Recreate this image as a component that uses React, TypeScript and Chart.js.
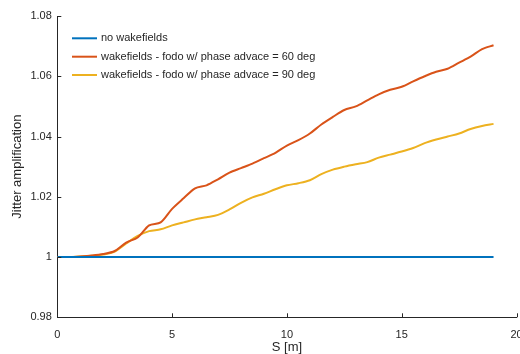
import React, { useEffect, useRef } from "react";
import { Chart, registerables } from "chart.js";

Chart.register(...registerables);

const sValues: number[] = [
  0, 0.5, 1, 1.5, 2, 2.5, 3, 3.5, 4, 4.5, 5, 5.5, 6, 6.5, 7, 7.5, 8, 8.5, 9, 9.5,
  10, 10.5, 11, 11.5, 12, 12.5, 13, 13.5, 14, 14.5, 15, 15.5, 16, 16.5, 17, 17.5,
  18, 18.5, 19,
];

const noWake: number[] = sValues.map(() => 1.0);

const fodo60: number[] = [
  1.0, 1.0, 1.0002, 1.0005, 1.001, 1.002, 1.0048, 1.0065, 1.0105, 1.0115, 1.016,
  1.0195, 1.0228, 1.0238, 1.0258, 1.028, 1.0295, 1.031, 1.0328, 1.0346, 1.037,
  1.0388, 1.041, 1.044, 1.0465, 1.0488, 1.05, 1.052, 1.054, 1.0555, 1.0565,
  1.0583, 1.06, 1.0615, 1.0625, 1.0645, 1.0665, 1.069, 1.0703,
];

const fodo90: number[] = [
  1.0, 1.0, 1.0002, 1.0004, 1.0008, 1.0018, 1.0045, 1.007, 1.0086, 1.0092,
  1.0105, 1.0115, 1.0125, 1.0132, 1.014, 1.0158, 1.018, 1.0198, 1.021, 1.0225,
  1.0238, 1.0245, 1.0255, 1.0275, 1.029, 1.03, 1.0308, 1.0315, 1.033, 1.034,
  1.035, 1.0362, 1.0378, 1.039, 1.04, 1.041, 1.0425, 1.0435, 1.0442,
];

const seriesLabels: string[] = [
  "no wakefields",
  "wakefields - fodo w/ phase advace = 60 deg",
  "wakefields - fodo w/ phase advace = 90 deg",
];

const xTicks: number[] = [0, 5, 10, 15, 20];
const yTicks: number[] = [0.98, 1, 1.02, 1.04, 1.06, 1.08];

const AXIS = "#262626";
const FONT = "'Liberation Sans', Arial, Helvetica, sans-serif";

const overlayPlugin = {
  id: "overlay",
  afterDraw(chart: any) {
    const ctx = chart.ctx as CanvasRenderingContext2D;
    const xs = chart.scales.x;
    const ys = chart.scales.y;
    const area = chart.chartArea;
    ctx.save();
    ctx.strokeStyle = AXIS;
    ctx.lineWidth = 1;
    xTicks.forEach((v) => {
      const px = Math.round(xs.getPixelForValue(v)) + 0.5;
      ctx.beginPath();
      ctx.moveTo(px, area.bottom);
      ctx.lineTo(px, area.bottom - 4);
      ctx.stroke();
    });
    yTicks.forEach((v) => {
      const py = Math.round(ys.getPixelForValue(v)) + 0.5;
      ctx.beginPath();
      ctx.moveTo(area.left, py);
      ctx.lineTo(area.left + 4, py);
      ctx.stroke();
    });
    ctx.font = `11px ${FONT}`;
    ctx.textBaseline = "middle";
    ctx.textAlign = "left";
    const rowY = [38.3, 56.7, 75];
    chart.data.datasets.forEach((ds: any, i: number) => {
      ctx.strokeStyle = ds.borderColor;
      ctx.lineWidth = 2;
      ctx.beginPath();
      ctx.moveTo(72, rowY[i]);
      ctx.lineTo(97, rowY[i]);
      ctx.stroke();
      ctx.fillStyle = AXIS;
      ctx.fillText(ds.label, 101, rowY[i]);
    });
    ctx.restore();
  },
};

export default function App() {
  const canvasRef = useRef<HTMLCanvasElement | null>(null);

  useEffect(() => {
    document.body.style.margin = "0";
    const canvas = canvasRef.current;
    if (!canvas) return;
    const mk = (vals: number[]) => sValues.map((s, i) => ({ x: s, y: vals[i] }));
    const chart = new Chart(canvas, {
      type: "line",
      data: {
        datasets: [
          { label: seriesLabels[0], data: mk(noWake), borderColor: "#0072BD", borderWidth: 2, pointRadius: 0, tension: 0 },
          { label: seriesLabels[1], data: mk(fodo60), borderColor: "#D95319", borderWidth: 2, pointRadius: 0, tension: 0.3 },
          { label: seriesLabels[2], data: mk(fodo90), borderColor: "#EDB120", borderWidth: 2, pointRadius: 0, tension: 0.3 },
        ],
      },
      options: {
        animation: false,
        responsive: false,
        devicePixelRatio: 1,
        layout: { padding: { left: 0, right: 3.5, top: 16, bottom: 0 } },
        plugins: { legend: { display: false }, tooltip: { enabled: false } },
        scales: {
          x: {
            type: "linear",
            min: 0,
            max: 20,
            afterBuildTicks: (s: any) => { s.ticks = xTicks.map((v) => ({ value: v })); },
            afterFit: (s: any) => { s.height = 36.7; s.paddingLeft = 0; s.paddingRight = 0; },
            grid: { display: true, drawOnChartArea: false, drawTicks: false, color: "rgba(0,0,0,0)" },
            border: { display: true, color: AXIS, width: 1 },
            ticks: { padding: 11, color: AXIS, font: { family: FONT, size: 11 }, maxRotation: 0, autoSkip: false,
              callback: (v: any) => String(v) },
            title: { display: true, text: "S [m]", color: AXIS, font: { family: FONT, size: 13 }, padding: { top: 0, bottom: -1.3 } },
          },
          y: {
            type: "linear",
            min: 0.98,
            max: 1.08,
            afterBuildTicks: (s: any) => { s.ticks = yTicks.map((v) => ({ value: v })); },
            afterFit: (s: any) => { s.width = 57.3; s.paddingTop = 0; s.paddingBottom = 0; },
            grid: { display: true, drawOnChartArea: false, drawTicks: false, color: "rgba(0,0,0,0)" },
            border: { display: true, color: AXIS, width: 1 },
            ticks: { padding: 5.5, color: AXIS, font: { family: FONT, size: 11 }, autoSkip: false,
              callback: (v: any) => (Math.abs(v - 1) < 1e-9 ? "1" : Number(v).toFixed(2)) },
            title: { display: true, text: "Jitter amplification", color: AXIS, font: { family: FONT, size: 13 }, padding: { top: 10, bottom: 0 } },
          },
        },
      },
      plugins: [overlayPlugin],
    });
    return () => chart.destroy();
  }, []);

  return (
    <div style={{ position: "fixed", left: 0, top: 0, width: 520, height: 354, background: "#fff" }}>
      <canvas ref={canvasRef} width={520} height={354} style={{ display: "block", width: 520, height: 354 }} />
    </div>
  );
}
